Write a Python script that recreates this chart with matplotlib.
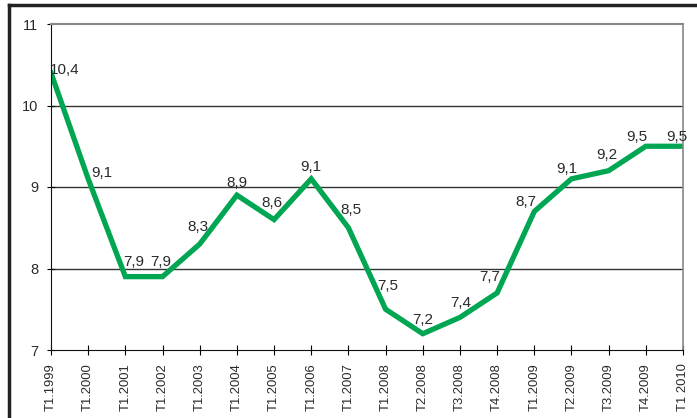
import matplotlib.pyplot as plt
from matplotlib import font_manager
from matplotlib.lines import Line2D

installed = {f.name for f in font_manager.fontManager.ttflist}
if "Liberation Sans Narrow" in installed:
    plt.rcParams["font.family"] = ["Liberation Sans Narrow", "DejaVu Sans"]
    sizes = {"label": 12.5, "ytick": 11.8, "xtick": 11.2}
else:
    plt.rcParams["font.family"] = ["Liberation Sans", "DejaVu Sans"]
    sizes = {"label": 11, "ytick": 10.5, "xtick": 9.4}

periods = [
    "T1.1999", "T1.2000", "T1.2001", "T1.2002", "T1.2003", "T1.2004",
    "T1.2005", "T1.2006", "T1.2007", "T1.2008", "T2.2008", "T3.2008",
    "T4.2008", "T1.2009", "T2.2009", "T3.2009", "T4.2009", "T1 2010",
]
values = [10.4, 9.1, 7.9, 7.9, 8.3, 8.9, 8.6, 9.1, 8.5,
          7.5, 7.2, 7.4, 7.7, 8.7, 9.1, 9.2, 9.5, 9.5]

# label offsets in pixels (dx right, dy up)
label_dx = [14, 14, 8, -2, -2, 0, -2, 0, 3, 2, 0, 1, -7, -8, -5, -2, -9, -6]
label_dy = [3, 6, 15, 15, 17, 12, 17, 12, 18, 23, 14, 14, 16, 9, 10, 16, 9, 9]

fig = plt.figure(figsize=(6.97, 4.18), dpi=100)
ax = fig.add_axes([51 / 697, 68 / 418, 632 / 697, 326 / 418])

x = list(range(len(values)))
ax.plot(x, values, color="#00a651", linewidth=3.8, solid_joinstyle="miter")

for i, v in enumerate(values):
    ax.annotate(
        f"{v:.1f}".replace(".", ","),
        (i, v),
        xytext=(label_dx[i], label_dy[i]),
        textcoords="offset pixels",
        ha="center",
        va="center",
        fontsize=sizes["label"],
        color="#2a2a2a",
    )

ax.set_xlim(0, len(values) - 1)
ax.set_ylim(7, 11)
ax.set_yticks([7, 8, 9, 10, 11])
ax.set_xticks(x)
ax.set_xticklabels(periods, rotation=90, fontsize=sizes["xtick"], color="#2a2a2a")
ax.tick_params(axis="y", labelsize=sizes["ytick"], labelcolor="#2a2a2a",
               direction="inout", length=6, pad=6)
ax.tick_params(axis="x", direction="inout", length=7, pad=6)

for yv in [8, 9, 10]:
    ax.axhline(yv, color="#333333", linewidth=1.0, zorder=0)

ax.spines["left"].set_color("#111111")
ax.spines["bottom"].set_color("#111111")
ax.spines["top"].set_color("#888888")
ax.spines["right"].set_color("#888888")
ax.spines["top"].set_linewidth(1.5)
ax.spines["right"].set_linewidth(1.2)

# outer frame of the page (top and left edges)
fig.add_artist(Line2D([9 / 697, 1], [1 - 5 / 418, 1 - 5 / 418], color="#222222", linewidth=2.5,
                      transform=fig.transFigure))
fig.add_artist(Line2D([9 / 697, 9 / 697], [0, 1 - 5 / 418], color="#222222", linewidth=2.5,
                      transform=fig.transFigure))

fig.savefig("out.png", dpi=100)
